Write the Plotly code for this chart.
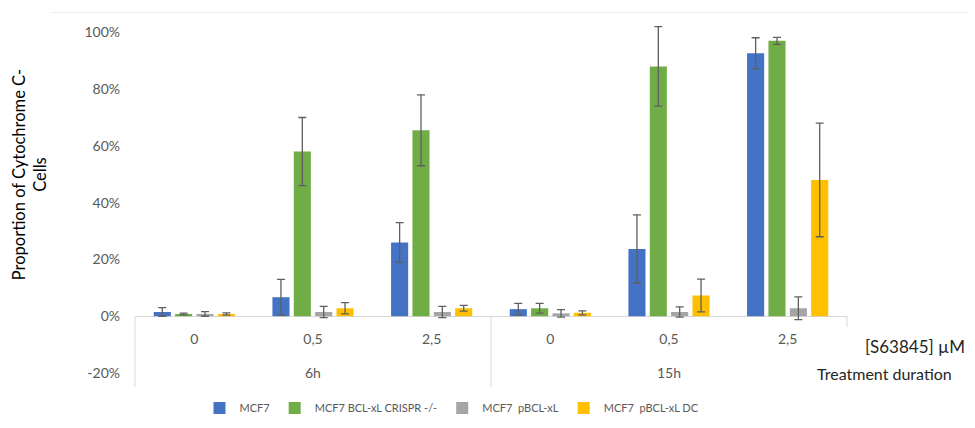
import plotly.graph_objects as go

durations = ["6h", "6h", "6h", "15h", "15h", "15h"]
doses = ["0", "0,5", "2,5", "0", "0,5", "2,5"]
categories = [f"{d}|{c}" for d, c in zip(durations, doses)]

series_names = ["MCF7", "MCF7 BCL-xL CRISPR -/-", "MCF7  pBCL-xL", "MCF7  pBCL-xL DC"]
mcf7 = [1.5, 6.7, 26.0, 2.5, 23.7, 92.6]
mcf7_err = [1.5, 6.3, 7.0, 2.0, 12.0, 5.5]
crispr = [0.8, 58.0, 65.5, 2.8, 88.0, 97.0]
crispr_err = [0.3, 12.0, 12.5, 1.7, 14.0, 1.2]
pbcl = [0.8, 1.5, 1.5, 1.0, 1.5, 2.8]
pbcl_err = [0.8, 2.0, 2.0, 1.3, 1.8, 4.0]
pbcl_dc = [0.8, 2.8, 2.8, 1.2, 7.3, 48.0]
pbcl_dc_err = [0.4, 2.0, 1.0, 0.7, 5.8, 20.0]

y_ticks = [-20, 0, 20, 40, 60, 80, 100]
y_tick_labels = ["-20%", "0%", "20%", "40%", "60%", "80%", "100%"]

series_values = [mcf7, crispr, pbcl, pbcl_dc]
series_errors = [mcf7_err, crispr_err, pbcl_err, pbcl_dc_err]
colors = ["#4472C4", "#70AD47", "#A5A5A5", "#FFC000"]

FONT = "Lato"
OFF = 8  # page body margin
W, H = 975 - OFF, 428 - OFF
L = 135 - OFF
R = W - (847 - OFF)
T = 20.64 - OFF
B = H - (373 - OFF)
plot_h = H - T - B
plot_w = W - L - R


def py(pix):
    return (H - B - (pix - OFF)) / plot_h


def px(pix):
    return ((pix - OFF) - L) / plot_w


fig = go.Figure()
for name, vals, errs, col in zip(series_names, series_values, series_errors, colors):
    fig.add_trace(go.Bar(
        x=categories, y=vals, name=name, marker_color=col, marker_line_width=0,
        error_y=dict(type="data", array=errs, visible=True, color="#5f5f5f",
                     thickness=1.3, width=4),
    ))

fig.update_layout(
    width=W, height=H,
    margin=dict(l=L, r=R, t=T, b=B, autoexpand=False),
    plot_bgcolor="white", paper_bgcolor="white",
    barmode="group", bargap=0.28, bargroupgap=0.2,
    font=dict(family=FONT, color="#595959"),
    showlegend=True,
    legend=dict(orientation="h", x=px(452), xanchor="center", y=py(408), yanchor="middle",
                font=dict(size=11, color="#595959", family=FONT), itemwidth=30,
                traceorder="normal"),
)

fig.update_xaxes(
    type="category", categoryorder="array", categoryarray=categories,
    range=[-0.5, len(categories) - 0.5],
    tickvals=categories, ticktext=doses,
    anchor="free", position=py(316), automargin=False,
    showline=False, showgrid=False, zeroline=False, ticks="",
    tickfont=dict(size=14, color="#595959", family=FONT),
    ticklabelstandoff=13,
)
fig.update_yaxes(
    range=[-20, 104], tickvals=y_ticks, ticktext=y_tick_labels, automargin=False,
    showgrid=False, showline=False, zeroline=True, zerolinecolor="#d9d9d9", zerolinewidth=1,
    ticks="", tickfont=dict(size=14, color="#595959", family=FONT),
    ticklabelstandoff=14,
)

# category group separators
for x0, y1 in [(px(135), py(387)), (px(491), py(387)), (px(847), py(327))]:
    fig.add_shape(type="line", xref="paper", yref="paper", x0=x0, x1=x0,
                  y0=py(316), y1=y1, line=dict(color="#d9d9d9", width=1))
# faint frame line at top
fig.add_shape(type="line", xref="paper", yref="paper", x0=px(50), x1=px(975),
              y0=py(12), y1=py(12), line=dict(color="#efefef", width=1))

# outer category labels
for lab, cat in [("6h", categories[1]), ("15h", categories[4])]:
    fig.add_annotation(text=lab, x=cat, xref="x", y=py(372), yref="paper",
                       showarrow=False, yanchor="middle",
                       font=dict(size=14, color="#595959", family=FONT))

fig.add_annotation(text="[S63845] µM", x=px(967), xref="paper", y=py(346), yref="paper",
                   xanchor="right", yanchor="middle", showarrow=False,
                   font=dict(size=17, color="#262626", family=FONT))
fig.add_annotation(text="Treatment duration", x=px(884), xref="paper", y=py(373), yref="paper",
                   xanchor="center", yanchor="middle", showarrow=False,
                   font=dict(size=16, color="#262626", family=FONT))
fig.add_annotation(text="Proportion of Cytochrome C-<br>Cells", x=px(29), xref="paper",
                   y=py(175), yref="paper", textangle=-90, xanchor="center", yanchor="middle",
                   showarrow=False, font=dict(size=16.5, color="#000000", family=FONT))

fig.write_html("out.html")
